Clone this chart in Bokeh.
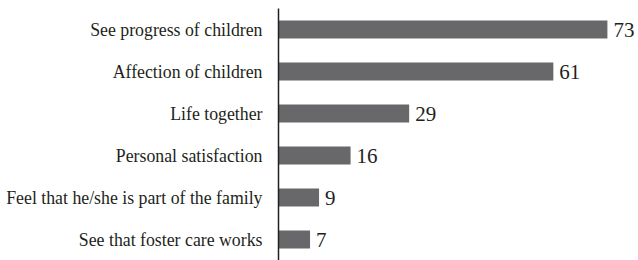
from bokeh.plotting import figure
from bokeh.models import ColumnDataSource, Range1d
from bokeh.core.properties import value
from bokeh.embed import file_html
from bokeh.resources import INLINE

categories = [
    "See progress of children",
    "Affection of children",
    "Life together",
    "Personal satisfaction",
    "Feel that he/she is part of the family",
    "See that foster care works",
]
values = [73, 61, 29, 16, 9, 7]
value_labels = [str(v) for v in values]

factors = list(reversed(categories))

src = ColumnDataSource(dict(cat=categories, val=values, lab=value_labels))

p = figure(
    width=638, height=260,
    y_range=factors,
    x_range=Range1d(0, 79.9),
    output_backend="svg", toolbar_location=None,
    min_border_left=278, min_border_right=0, min_border_top=8, min_border_bottom=0,
)
p.y_range.range_padding = 0

p.hbar(y="cat", right="val", left=0, height=0.43, source=src,
       fill_color="#68686b", line_color=None)

p.text(x="val", y="cat", text="lab", source=src, x_offset=6,
       text_baseline="middle", text_align="left",
       text_font=value("Liberation Serif"), text_font_size="21px",
       text_color="#231f20")

p.xaxis.visible = False
p.xgrid.visible = False
p.ygrid.visible = False
p.outline_line_color = None

ax = p.yaxis[0]
ax.axis_line_color = "#231f20"
ax.axis_line_width = 1.5
ax.major_tick_line_color = None
ax.minor_tick_line_color = None
ax.major_label_standoff = 10
ax.major_label_text_font = "Liberation Serif"
ax.major_label_text_font_size = "17.8px"
ax.major_label_text_color = "#231f20"

open("out.html", "w").write(file_html(p, INLINE))
